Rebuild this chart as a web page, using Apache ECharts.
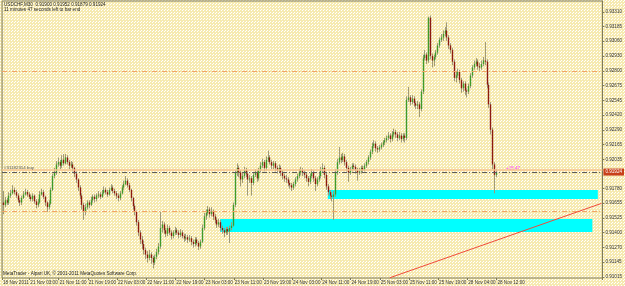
<!DOCTYPE html>
<html>
<head>
<meta charset="utf-8">
<script src="https://cdn.jsdelivr.net/npm/echarts@6/dist/echarts.min.js"></script>
<style>
  html, body { margin: 0; padding: 0; background: #f7eec0; }
  #chart { width: 625px; height: 286px; }
</style>
</head>
<body>
<div id="chart"></div>
<script>
// USDCHF M30, bars from 18 Nov 2011 18:30 to 28 Nov 2011 11:30
const firstOpen = 0.9166;
const closes = [
  0.9164,0.9168,0.9166,0.9172,0.9174,0.9177,0.9175,0.9172,0.9168,0.9166,
  0.9170,0.9173,0.9175,0.9173,0.9171,0.9169,0.9172,0.9167,0.9164,0.9166,
  0.9173,0.9175,0.9171,0.9166,0.9162,0.9165,0.9177,0.9189,0.9192,0.9199,
  0.9201,0.9198,0.9203,0.9200,0.9205,0.9201,0.9198,0.9199,0.9196,0.9191,
  0.9186,0.9179,0.9172,0.9164,0.9158,0.9162,0.9166,0.9164,0.9168,0.9171,
  0.9169,0.9172,0.9173,0.9171,0.9174,0.9177,0.9175,0.9173,0.9177,0.9179,
  0.9176,0.9174,0.9172,0.9170,0.9174,0.9179,0.9182,0.9185,0.9181,0.9177,
  0.9170,0.9163,0.9158,0.9149,0.9140,0.9134,0.9130,0.9125,0.9121,0.9118,
  0.9121,0.9118,0.9114,0.9119,0.9123,0.9128,0.9144,0.9147,0.9142,0.9139,
  0.9144,0.9140,0.9137,0.9140,0.9142,0.9140,0.9138,0.9140,0.9137,0.9135,
  0.9136,0.9134,0.9135,0.9132,0.9130,0.9134,0.9131,0.9128,0.9132,0.9144,
  0.9154,0.9157,0.9160,0.9156,0.9158,0.9154,0.9151,0.9147,0.9149,0.9144,
  0.9142,0.9140,0.9143,0.9141,0.9144,0.9146,0.9164,0.9192,0.9196,0.9192,
  0.9186,0.9189,0.9194,0.9191,0.9186,0.9187,0.9183,0.9190,0.9192,0.9187,
  0.9194,0.9198,0.9201,0.9196,0.9203,0.9205,0.9201,0.9198,0.9200,0.9196,
  0.9194,0.9196,0.9192,0.9189,0.9187,0.9186,0.9183,0.9181,0.9179,0.9182,
  0.9186,0.9189,0.9192,0.9194,0.9192,0.9190,0.9187,0.9184,0.9189,0.9192,
  0.9187,0.9182,0.9186,0.9189,0.9194,0.9196,0.9190,0.9180,0.9175,0.9172,
  0.9171,0.9173,0.9192,0.9201,0.9205,0.9203,0.9206,0.9201,0.9196,0.9192,
  0.9195,0.9198,0.9197,0.9194,0.9192,0.9193,0.9196,0.9194,0.9198,0.9201,
  0.9205,0.9210,0.9215,0.9217,0.9213,0.9212,0.9214,0.9216,0.9218,0.9220,
  0.9222,0.9224,0.9221,0.9225,0.9227,0.9225,0.9222,0.9224,0.9221,0.9224,
  0.9222,0.9255,0.9257,0.9253,0.9256,0.9252,0.9250,0.9251,0.9247,0.9262,
  0.9291,0.9294,0.9289,0.9326,0.9293,0.9289,0.9292,0.9296,0.9302,0.9307,
  0.9309,0.9312,0.9315,0.9309,0.9302,0.9298,0.9288,0.9274,0.9276,0.9279,
  0.9272,0.9265,0.9269,0.9263,0.9262,0.9267,0.9276,0.9283,0.9286,0.9288,
  0.9284,0.9283,0.9286,0.9289,0.9288,0.9268,0.9251,0.9229,0.9199,0.9190,
  0.9192
];
const highs = [
  0.9176,0.9171,0.9170,0.9175,0.9177,0.9181,0.9179,0.9177,0.9174,0.9170,
  0.9172,0.9176,0.9178,0.9177,0.9175,0.9173,0.9174,0.9173,0.9169,0.9169,
  0.9176,0.9178,0.9177,0.9172,0.9167,0.9168,0.9179,0.9191,0.9196,0.9202,
  0.9205,0.9203,0.9207,0.9208,0.9208,0.9207,0.9203,0.9202,0.9201,0.9197,
  0.9193,0.9187,0.9181,0.9174,0.9166,0.9165,0.9168,0.9168,0.9171,0.9173,
  0.9173,0.9174,0.9176,0.9175,0.9177,0.9180,0.9179,0.9177,0.9179,0.9182,
  0.9181,0.9178,0.9176,0.9174,0.9176,0.9181,0.9185,0.9189,0.9187,0.9183,
  0.9178,0.9171,0.9165,0.9159,0.9151,0.9142,0.9137,0.9133,0.9127,0.9124,
  0.9125,0.9123,0.9120,0.9121,0.9126,0.9131,0.9158,0.9150,0.9149,0.9144,
  0.9147,0.9146,0.9142,0.9142,0.9145,0.9144,0.9142,0.9143,0.9142,0.9139,
  0.9139,0.9138,0.9138,0.9137,0.9134,0.9136,0.9136,0.9133,0.9134,0.9147,
  0.9157,0.9160,0.9163,0.9162,0.9162,0.9160,0.9156,0.9153,0.9152,0.9151,
  0.9146,0.9144,0.9145,0.9145,0.9146,0.9149,0.9166,0.9194,0.9200,0.9198,
  0.9194,0.9192,0.9197,0.9196,0.9193,0.9190,0.9189,0.9192,0.9195,0.9194,
  0.9196,0.9201,0.9204,0.9203,0.9206,0.9211,0.9207,0.9203,0.9202,0.9202,
  0.9198,0.9199,0.9198,0.9194,0.9191,0.9190,0.9188,0.9185,0.9183,0.9184,
  0.9188,0.9191,0.9195,0.9197,0.9196,0.9194,0.9192,0.9189,0.9191,0.9195,
  0.9194,0.9189,0.9188,0.9192,0.9197,0.9200,0.9198,0.9192,0.9182,0.9177,
  0.9175,0.9176,0.9195,0.9204,0.9214,0.9208,0.9209,0.9208,0.9203,0.9198,
  0.9197,0.9200,0.9200,0.9199,0.9196,0.9196,0.9198,0.9198,0.9200,0.9203,
  0.9207,0.9212,0.9218,0.9220,0.9219,0.9215,0.9216,0.9218,0.9220,0.9222,
  0.9224,0.9227,0.9226,0.9228,0.9230,0.9229,0.9227,0.9227,0.9226,0.9226,
  0.9226,0.9258,0.9266,0.9259,0.9259,0.9258,0.9254,0.9254,0.9253,0.9264,
  0.9294,0.9298,0.9296,0.9327,0.9328,0.9295,0.9294,0.9298,0.9304,0.9309,
  0.9312,0.9315,0.9318,0.9322,0.9311,0.9304,0.9300,0.9290,0.9279,0.9282,
  0.9281,0.9274,0.9271,0.9271,0.9265,0.9269,0.9278,0.9285,0.9289,0.9291,
  0.9290,0.9287,0.9289,0.9292,0.9305,0.9290,0.9270,0.9253,0.9231,0.9201,
  0.9195
];
const lows = [
  0.9156,0.9162,0.9164,0.9164,0.9170,0.9173,0.9173,0.9170,0.9166,0.9163,
  0.9164,0.9169,0.9172,0.9171,0.9169,0.9167,0.9167,0.9165,0.9161,0.9162,
  0.9165,0.9172,0.9169,0.9163,0.9158,0.9160,0.9164,0.9176,0.9187,0.9190,
  0.9197,0.9195,0.9196,0.9198,0.9199,0.9199,0.9195,0.9196,0.9193,0.9188,
  0.9183,0.9176,0.9169,0.9160,0.9151,0.9155,0.9160,0.9161,0.9163,0.9166,
  0.9166,0.9167,0.9170,0.9169,0.9170,0.9173,0.9173,0.9171,0.9172,0.9176,
  0.9174,0.9172,0.9169,0.9167,0.9168,0.9173,0.9177,0.9181,0.9179,0.9175,
  0.9167,0.9160,0.9155,0.9146,0.9137,0.9130,0.9126,0.9121,0.9117,0.9114,
  0.9116,0.9113,0.9109,0.9112,0.9117,0.9121,0.9126,0.9140,0.9139,0.9136,
  0.9137,0.9138,0.9134,0.9135,0.9138,0.9138,0.9135,0.9136,0.9135,0.9132,
  0.9133,0.9131,0.9132,0.9129,0.9127,0.9128,0.9129,0.9125,0.9126,0.9131,
  0.9142,0.9151,0.9155,0.9153,0.9154,0.9151,0.9148,0.9144,0.9145,0.9141,
  0.9139,0.9136,0.9138,0.9138,0.9131,0.9142,0.9145,0.9162,0.9189,0.9188,
  0.9180,0.9183,0.9187,0.9188,0.9172,0.9183,0.9172,0.9181,0.9188,0.9184,
  0.9185,0.9192,0.9196,0.9193,0.9194,0.9201,0.9199,0.9195,0.9195,0.9193,
  0.9191,0.9192,0.9189,0.9186,0.9184,0.9183,0.9180,0.9178,0.9176,0.9177,
  0.9180,0.9184,0.9187,0.9190,0.9189,0.9187,0.9184,0.9180,0.9182,0.9187,
  0.9184,0.9176,0.9180,0.9184,0.9187,0.9192,0.9187,0.9177,0.9172,0.9169,
  0.9167,0.9151,0.9171,0.9190,0.9199,0.9200,0.9201,0.9198,0.9193,0.9184,
  0.9190,0.9193,0.9194,0.9191,0.9185,0.9190,0.9191,0.9192,0.9193,0.9196,
  0.9199,0.9203,0.9208,0.9213,0.9210,0.9209,0.9210,0.9212,0.9214,0.9216,
  0.9218,0.9220,0.9218,0.9219,0.9223,0.9222,0.9219,0.9220,0.9218,0.9219,
  0.9218,0.9220,0.9253,0.9250,0.9251,0.9249,0.9247,0.9247,0.9240,0.9245,
  0.9260,0.9289,0.9286,0.9287,0.9290,0.9283,0.9284,0.9290,0.9294,0.9300,
  0.9305,0.9306,0.9310,0.9306,0.9299,0.9295,0.9285,0.9271,0.9270,0.9274,
  0.9269,0.9261,0.9262,0.9259,0.9257,0.9260,0.9265,0.9274,0.9281,0.9284,
  0.9281,0.9280,0.9281,0.9284,0.9285,0.9265,0.9248,0.9225,0.9195,0.9174,
  0.9188
];
const futureBars = 58;
const yTicks = [0.91015, 0.91145, 0.91270, 0.91400, 0.91525, 0.91655, 0.91780,
  0.92035, 0.92165, 0.92290, 0.92420, 0.92545, 0.92675, 0.92800, 0.92930,
  0.93060, 0.93185, 0.93310];
const bidPrice = 0.91924;
const orderPrice = 0.91942;
const levelLines = [0.92799, 0.91587];
// rectangles: [startBar, endBar, topPrice, bottomPrice]
const zones = [[178, 326, 0.91769, 0.91691], [119, 323, 0.91517, 0.91405]];
// trend line: [bar, price], [bar, price]
const trend = [[212, 0.91009], [328, 0.91653]];

const monthNames = ['Jan','Feb','Mar','Apr','May','Jun','Jul','Aug','Sep','Oct','Nov','Dec'];
const pad = n => String(n).padStart(2, '0');

// bar times, 30 minutes apart, market closed from Fri 23:00 to Mon 00:00
const times = [];
let t = Date.UTC(2011, 10, 18, 18, 30);
while (times.length < closes.length + futureBars) {
  const d = new Date(t);
  const wd = d.getUTCDay();
  if (wd !== 0 && wd !== 6 && !(wd === 5 && d.getUTCHours() >= 23)) {
    times.push(pad(d.getUTCDate()) + ' ' + monthNames[d.getUTCMonth()] + ' ' +
      pad(d.getUTCHours()) + ':' + pad(d.getUTCMinutes()));
  }
  t += 30 * 60000;
}

const candles = closes.map((c, i) => [i, i ? closes[i - 1] : firstOpen, c, lows[i], highs[i]]);

function showLabel(i) {
  return i === 0 || (i >= 15 && (i - 15) % 16 === 0 && i <= closes.length);
}

// speckled chart background like the MT4 screenshot
const tile = document.createElement('canvas');
tile.width = 3; tile.height = 3;
const tctx = tile.getContext('2d');
tctx.fillStyle = '#f6eab0';
tctx.fillRect(0, 0, 3, 3);
tctx.fillStyle = '#ffffff';
tctx.fillRect(0, 0, 1, 1);
tctx.fillRect(2, 1, 1, 1);

function renderCandle(params, api) {
  const i = api.value(0);
  const o = api.value(1), c = api.value(2);
  const pO = api.coord([i, o]), pC = api.coord([i, c]);
  const pL = api.coord([i, api.value(3)]), pH = api.coord([i, api.value(4)]);
  const x = Math.round(pO[0]) + 0.5;
  const top = Math.min(pO[1], pC[1]);
  const bot = Math.max(pO[1], pC[1]);
  return {
    type: 'group',
    children: [
      { type: 'line', shape: { x1: x, y1: pH[1], x2: x, y2: pL[1] },
        style: { stroke: '#a09a78', lineWidth: 1 } },
      { type: 'rect', shape: { x: x - 0.7, y: top, width: 1.4, height: Math.max(bot - top, 0.8) },
        style: { fill: c >= o ? '#3f9a2c' : '#8c1a10' } }
    ]
  };
}

const myChart = echarts.init(document.getElementById('chart'));
const font = 'Liberation Sans, Arial, sans-serif';

const option = {
  backgroundColor: { image: tile, repeat: 'repeat' },
  animation: false,
  grid: { left: 2, right: 18, top: 1, bottom: 8, show: true, borderColor: '#7e7a5a', borderWidth: 1 },
  xAxis: {
    type: 'category',
    data: times,
    boundaryGap: true,
    axisLine: { show: false },
    axisTick: { show: true, interval: (i) => showLabel(i), length: 2, lineStyle: { color: '#7e7a5a' } },
    axisLabel: {
      interval: (i) => showLabel(i),
      formatter: (v, i) => i === 0 ? '18 Nov 2011' : v,
      align: 'left',
      margin: 2,
      fontSize: 4.6,
      fontFamily: font,
      color: '#333'
    },
    splitLine: { show: false }
  },
  yAxis: {
    type: 'value',
    position: 'right',
    min: 0.91007,
    max: 0.93405,
    axisLine: { show: true, lineStyle: { color: '#7e7a5a' } },
    axisTick: { show: true, customValues: yTicks, length: 2, lineStyle: { color: '#7e7a5a' } },
    axisLabel: {
      customValues: yTicks,
      formatter: v => v.toFixed(5),
      margin: 3,
      fontSize: 4.6,
      fontFamily: font,
      color: '#333'
    },
    splitLine: { show: false }
  },
  graphic: [
    { type: 'text', left: 4, top: 2.5, style: { text: 'USDCHF,M30  0.91900 0.91952 0.91879 0.91924', fontSize: 4.6, fontFamily: font, fill: '#222' } },
    { type: 'text', left: 4, top: 7.5, style: { text: '11 minutes 47 seconds left to bar end', fontSize: 4.6, fontFamily: font, fill: '#222' } },
    { type: 'text', left: 3, top: 271.5, style: { text: 'MetaTrader - Alpari UK, \u00a9 2001-2011 MetaQuotes Software Corp.', fontSize: 4.6, fontFamily: font, fill: '#222' } },
    { type: 'text', left: 506, top: 166.5, style: { text: '+15.47', fontSize: 4.6, fontFamily: font, fill: '#ff44ff' } }
  ],
  series: [
    {
      type: 'line',
      data: [],
      z: 1,
      silent: true,
      markArea: {
        silent: true,
        itemStyle: { color: '#00ffff', opacity: 1 },
        data: zones.map(z => [{ xAxis: z[0], yAxis: z[2] }, { xAxis: z[1], yAxis: z[3] }])
      },
      markLine: {
        silent: true,
        precision: 5,
        symbol: ['none', 'none'],
        animation: false,
        label: { show: false },
        data: [
          ...levelLines.map(p => ({ yAxis: p, lineStyle: { color: '#f2a466', width: 1, type: [5, 2, 1, 2] } })),
          { yAxis: orderPrice, lineStyle: { color: '#f6c490', width: 1.6, type: 'solid' },
            label: { show: true, position: 'insideStartTop', formatter: '#31182314 buy', fontSize: 4.4, fontFamily: font, color: '#555', distance: [2, 0.5] } },
          { yAxis: bidPrice, lineStyle: { color: '#5a5a5a', width: 1, type: [5, 2, 1, 2] },
            label: { show: true, position: 'end', formatter: bidPrice.toFixed(5), fontSize: 4.6, fontFamily: font, color: '#fff', backgroundColor: '#c8401a', padding: [1, 2], distance: 1 } },
          [{ coord: trend[0], lineStyle: { color: '#f04a3a', width: 1, type: 'solid' } }, { coord: trend[1] }]
        ]
      }
    },
    {
      type: 'custom',
      z: 3,
      renderItem: renderCandle,
      data: candles,
      encode: { x: 0, y: [1, 2, 3, 4] },
      clip: true
    }
  ]
};

myChart.setOption(option);
window.addEventListener('resize', function () {
  myChart.resize();
});
</script>
</body>
</html>
